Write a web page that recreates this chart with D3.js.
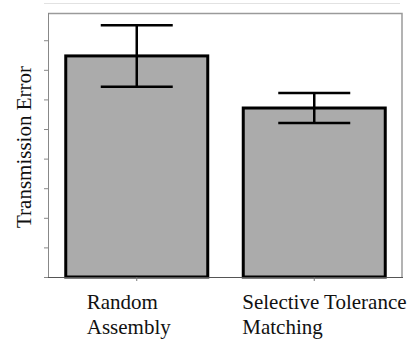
<!DOCTYPE html>
<html>
<head>
<meta charset="utf-8">
<script src="https://cdn.jsdelivr.net/npm/d3@7"></script>
<style>
  body { margin: 0; background: #fff; }
</style>
</head>
<body>
<div id="chart"></div>
<script>
// data (arbitrary units, no tick labels shown)
var categories = ["Random Assembly", "Selective Tolerance Matching"];
var labelLines = [["Random", "Assembly"], ["Selective Tolerance", "Matching"]];
var means = [7.47, 5.71];
var errors = [1.04, 0.51];
var yTicks = [0, 1, 2, 3, 4, 5, 6, 7, 8];

var W = 410, H = 344;
var serif = "'Liberation Serif', 'Times New Roman', Times, 'DejaVu Serif', serif";
var margin = {top: 13, right: 7, bottom: 67, left: 48},
    width = W - margin.left - margin.right,
    height = H - margin.top - margin.bottom;

var svg = d3.select("#chart").append("svg")
    .attr("width", W)
    .attr("height", H);

// faint line along the top of the image
svg.append("line")
    .attr("x1", 44).attr("x2", 400)
    .attr("y1", 3.5).attr("y2", 3.5)
    .style("stroke", "#e2e2e2").style("stroke-width", 1);

var g = svg.append("g")
    .attr("transform", "translate(" + margin.left + "," + margin.top + ")");

var x = d3.scaleBand()
    .domain(categories)
    .range([0, width])
    .paddingInner(0.2)
    .paddingOuter(0.1);

var y = d3.scaleLinear()
    .domain([0, 8.92])
    .range([height, 0]);

// plot frame (top + right)
g.append("path")
    .attr("d", "M0,0.5H" + (width - 1) + "V" + height)
    .style("fill", "none")
    .style("stroke", "#9a9a9a")
    .style("stroke-width", 1.5);

// y axis: ticks only
var yAxis = g.append("g")
    .call(d3.axisLeft(y).tickValues(yTicks).tickSize(4).tickFormat(""));
yAxis.select(".domain").style("stroke", "#888").attr("d", "M0.5,0V" + height);
yAxis.selectAll(".tick line").style("stroke", "#888");

// bars
g.selectAll(".bar")
    .data(categories)
  .enter().append("rect")
    .attr("class", "bar")
    .attr("x", function(d) { return x(d); })
    .attr("width", x.bandwidth())
    .attr("y", function(d, i) { return y(means[i]); })
    .attr("height", function(d, i) { return height - y(means[i]); })
    .style("fill", "#ababab")
    .style("stroke", "#000")
    .style("stroke-width", 3);

// x axis
var xAxis = g.append("g")
    .attr("transform", "translate(0," + height + ")")
    .call(d3.axisBottom(x).tickSize(4).tickFormat(""));
xAxis.select(".domain").style("stroke", "#555").attr("d", "M0," + 0.5 + "H" + width);
xAxis.selectAll(".tick line").style("stroke", "#777");

// error bars
var capHalf = 36;
var err = g.selectAll(".err")
    .data(categories)
  .enter().append("g")
    .attr("class", "err")
    .attr("transform", function(d) { return "translate(" + (x(d) + x.bandwidth() / 2) + ",0)"; });

err.append("line")
    .attr("y1", function(d, i) { return y(means[i] + errors[i]); })
    .attr("y2", function(d, i) { return y(means[i] - errors[i]); });
err.append("line")
    .attr("x1", -capHalf).attr("x2", capHalf)
    .attr("y1", function(d, i) { return y(means[i] + errors[i]); })
    .attr("y2", function(d, i) { return y(means[i] + errors[i]); });
err.append("line")
    .attr("x1", -capHalf).attr("x2", capHalf)
    .attr("y1", function(d, i) { return y(means[i] - errors[i]); })
    .attr("y2", function(d, i) { return y(means[i] - errors[i]); });
err.selectAll("line").style("stroke", "#000").style("stroke-width", 2.5);

// category labels (left aligned blocks under each bar)
var labelShift = [-50, -72];
g.selectAll(".cat")
    .data(categories)
  .enter().append("text")
    .attr("class", "cat")
    .attr("transform", function(d, i) {
      return "translate(" + (x(d) + x.bandwidth() / 2 + labelShift[i]) + "," + (height + 32) + ")";
    })
    .style("font-family", serif)
    .style("font-size", "21px")
    .style("fill", "#111")
    .selectAll("tspan")
    .data(function(d, i) { return labelLines[i]; })
  .enter().append("tspan")
    .attr("x", 0)
    .attr("dy", function(d, j) { return j === 0 ? 0 : 25; })
    .text(function(d) { return d; });

// y axis title
svg.append("text")
    .attr("transform", "translate(31," + (margin.top + height / 2 + 2) + ") rotate(-90)")
    .attr("text-anchor", "middle")
    .style("font-family", serif)
    .style("font-size", "21px")
    .style("fill", "#111")
    .text("Transmission Error");
</script>
</body>
</html>
